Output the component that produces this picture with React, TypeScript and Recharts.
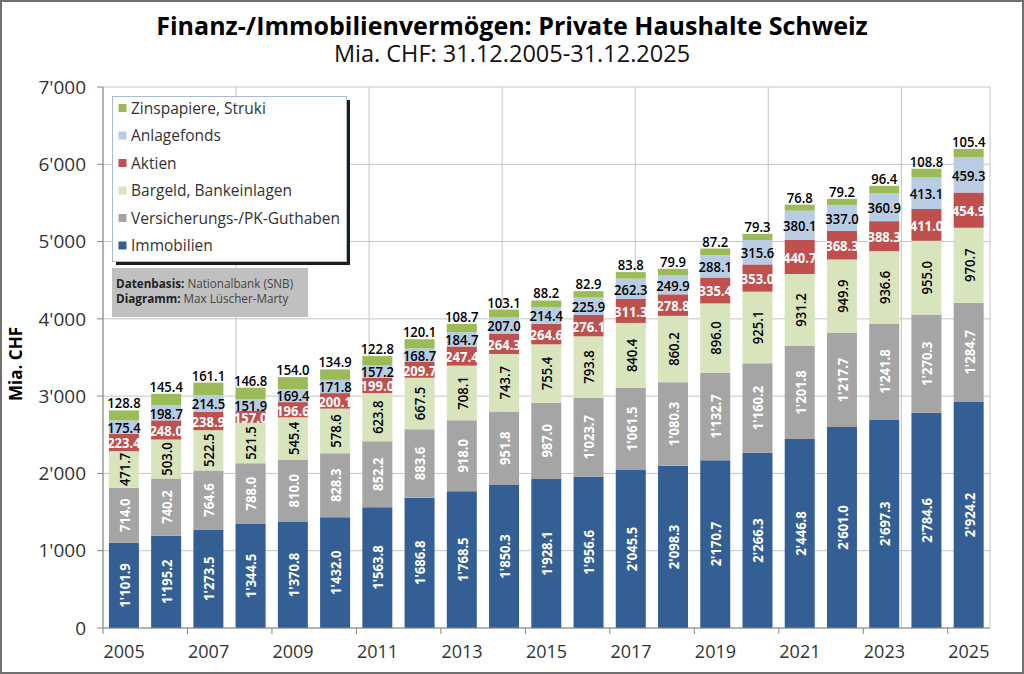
import { BarChart, Bar, XAxis, YAxis, CartesianGrid, LabelList } from 'recharts';

const YEARS = ['2005', '2006', '2007', '2008', '2009', '2010', '2011', '2012', '2013', '2014', '2015', '2016', '2017', '2018', '2019', '2020', '2021', '2022', '2023', '2024', '2025'];

const IMMOBILIEN = [1101.9, 1195.2, 1273.5, 1344.5, 1370.8, 1432.0, 1563.8, 1686.8, 1768.5, 1850.3, 1928.1, 1956.6, 2045.5, 2098.3, 2170.7, 2266.3, 2446.8, 2601.0, 2697.3, 2784.6, 2924.2];
const VERSICHERUNG = [714.0, 740.2, 764.6, 788.0, 810.0, 828.3, 852.2, 883.6, 918.0, 951.8, 987.0, 1023.7, 1061.5, 1080.3, 1132.7, 1160.2, 1201.8, 1217.7, 1241.8, 1270.3, 1284.7];
const BARGELD = [471.7, 503.0, 522.5, 521.5, 545.4, 578.6, 623.8, 667.5, 708.1, 743.7, 755.4, 793.8, 840.4, 860.2, 896.0, 925.1, 931.2, 949.9, 936.6, 955.0, 970.7];
const AKTIEN = [223.4, 248.0, 238.9, 157.0, 196.6, 200.1, 199.0, 209.7, 247.4, 264.3, 264.6, 276.1, 311.3, 278.8, 335.4, 353.0, 440.7, 368.3, 388.3, 411.0, 454.9];
const ANLAGEFONDS = [175.4, 198.7, 214.5, 151.9, 169.4, 171.8, 157.2, 168.7, 184.7, 207.0, 214.4, 225.9, 262.3, 249.9, 288.1, 315.6, 380.1, 337.0, 360.9, 413.1, 459.3];
const ZINSPAPIERE = [128.8, 145.4, 161.1, 146.8, 154.0, 134.9, 122.8, 120.1, 108.7, 103.1, 88.2, 82.9, 83.8, 79.9, 87.2, 79.3, 76.8, 79.2, 96.4, 108.8, 105.4];

const Y_TICKS = [0, 1000, 2000, 3000, 4000, 5000, 6000, 7000];
const GRID_TICKS = [0, 3, 6, 9, 12, 15, 18, 21];

const W = 1024;
const H = 674;
const MARGIN = { top: 87, right: 34, bottom: 16, left: 0 };
const Y_AXIS_W = 103;
const PLOT_W = W - MARGIN.right - Y_AXIS_W;

const SANS = "'Open Sans', 'Noto Sans', sans-serif";

// label styles: rot = rotated inside, flat = horizontal inside, top = above the bar
const SERIES = [
  { key: 'immo', name: 'Immobilien', color: '#345f94', values: IMMOBILIEN, text: '#ffffff', mode: 'rot' },
  { key: 'vers', name: 'Versicherungs-/PK-Guthaben', color: '#a5a5a5', values: VERSICHERUNG, text: '#ffffff', mode: 'rot' },
  { key: 'barg', name: 'Bargeld, Bankeinlagen', color: '#d8e4bc', values: BARGELD, text: '#000000', mode: 'rot' },
  { key: 'akt', name: 'Aktien', color: '#c0504d', values: AKTIEN, text: '#ffffff', mode: 'flat' },
  { key: 'anl', name: 'Anlagefonds', color: '#b8cce4', values: ANLAGEFONDS, text: '#000000', mode: 'flat' },
  { key: 'zins', name: 'Zinspapiere, Struki', color: '#9bbb59', values: ZINSPAPIERE, text: '#000000', mode: 'top' },
];

const data = YEARS.map((year, i) => {
  const row: Record<string, any> = { year };
  SERIES.forEach((s) => { row[s.key] = s.values[i]; });
  return row;
});

const fmt = (v: number) => {
  const [int, dec] = v.toFixed(1).split('.');
  return int.replace(/\B(?=(\d{3})+(?!\d))/g, "'") + '.' + dec;
};
const fmtTick = (v: number) => String(v).replace(/\B(?=(\d{3})+(?!\d))/g, "'");

// the original labels use a narrow bold face; squeeze Open Sans horizontally
const SQUEEZE = 0.87;

const makeLabel = (mode: string, color: string) => (props: any) => {
  const { x, y, width, height, value } = props;
  const cx = Number(x) + Number(width) / 2;
  const cy = Number(y) + Number(height) / 2;
  const common = {
    fill: color,
    fontSize: 15,
    fontWeight: color === '#ffffff' ? 700 : 600,
    fontFamily: SANS,
    textAnchor: 'middle' as const,
    x: 0,
    y: 0,
  };
  if (mode === 'rot') {
    return (
      <text {...common} dominantBaseline="central" transform={`translate(${cx} ${cy}) rotate(-90) scale(${SQUEEZE} 1)`}>
        {fmt(value)}
      </text>
    );
  }
  if (mode === 'top') {
    return (
      <text {...common} transform={`translate(${cx} ${Number(y) - 2}) scale(${SQUEEZE} 1)`}>
        {fmt(value)}
      </text>
    );
  }
  return (
    <text {...common} dominantBaseline="central" transform={`translate(${cx} ${cy}) scale(${SQUEEZE} 1)`}>
      {fmt(value)}
    </text>
  );
};

const XTick = (props: any) => {
  const { x, y, payload, index } = props;
  if (index % 2 !== 0) return <g />;
  const bw = PLOT_W / YEARS.length;
  return (
    <g>
      <line x1={x - bw / 2} x2={x - bw / 2} y1={y} y2={y + 6} stroke="#868686" />
      <text x={x} y={y + 30} textAnchor="middle" fontSize={18} fontFamily={SANS} fill="#333">
        {payload.value}
      </text>
    </g>
  );
};

const LEGEND_ORDER = [...SERIES].reverse();

export default function App() {
  return (
    <div style={{ position: 'absolute', left: 0, top: 0, width: W, height: H, background: '#fff' }}>
      <BarChart width={W} height={H} data={data} margin={MARGIN} barCategoryGap="14%">
        <CartesianGrid xAxisId="grid" stroke="#c4c4c4" />
        <XAxis xAxisId="grid" type="number" domain={[0, 21]} ticks={GRID_TICKS} hide />
        <XAxis
          dataKey="year"
          xAxisId="cat"
          height={30}
          interval={0}
          tickLine={false}
          tickSize={0}
          tickMargin={0}
          tick={XTick}
          axisLine={{ stroke: '#868686' }}
        />
        <YAxis
          width={Y_AXIS_W}
          domain={[0, 7000]}
          ticks={Y_TICKS}
          interval={0}
          tickFormatter={fmtTick}
          tickSize={6}
          tickMargin={11}
          tick={{ fontSize: 19, fontFamily: SANS, fill: '#333' }}
          tickLine={{ stroke: '#868686' }}
          axisLine={{ stroke: '#868686' }}
        />
        {SERIES.map((s) => (
          <Bar key={s.key} dataKey={s.key} name={s.name} stackId="a" xAxisId="cat" fill={s.color} isAnimationActive={false}>
            <LabelList dataKey={s.key} content={makeLabel(s.mode, s.text)} />
          </Bar>
        ))}
      </BarChart>

      <svg width={W} height={H} style={{ position: 'absolute', left: 0, top: 0, pointerEvents: 'none' }}>
        <text x={512} y={35} textAnchor="middle" fontSize={25} fontWeight={700} fontFamily={SANS} fill="#000">
          Finanz-/Immobilienvermögen: Private Haushalte Schweiz
        </text>
        <text x={512} y={62} textAnchor="middle" fontSize={23.5} fontFamily={SANS} fill="#111">
          Mia. CHF: 31.12.2005-31.12.2025
        </text>
        <text x={22} y={364} textAnchor="middle" fontSize={17} fontWeight={700} fontFamily={SANS} fill="#000" transform="rotate(-90 22 364)">
          Mia. CHF
        </text>

        <rect x={116} y={100} width={234} height={165} fill="#1c1c1c" />
        <rect x={112.5} y={96.5} width={234} height={165} fill="#fff" stroke="#a9bcd6" />
        {LEGEND_ORDER.map((s, i) => (
          <g key={s.key}>
            <rect x={118.5} y={104 + i * 27.5} width={8} height={8} fill={s.color} />
            <text x={131} y={113.5 + i * 27.5} fontSize={15.5} fontFamily={SANS} fill="#333">
              {s.name}
            </text>
          </g>
        ))}

        <rect x={112} y={268} width={196} height={49} fill="#c0c0c0" />
        <text x={116} y={288} fontSize={11.7} fontFamily={SANS} fill="#444">
          <tspan fontWeight={700} fill="#222">Datenbasis:</tspan> Nationalbank (SNB)
        </text>
        <text x={116} y={303} fontSize={11.7} fontFamily={SANS} fill="#444">
          <tspan fontWeight={700} fill="#222">Diagramm:</tspan> Max Lüscher-Marty
        </text>

        <rect x={1} y={1} width={W - 2} height={H - 2} fill="none" stroke="#707070" strokeWidth={2} />
      </svg>
    </div>
  );
}
